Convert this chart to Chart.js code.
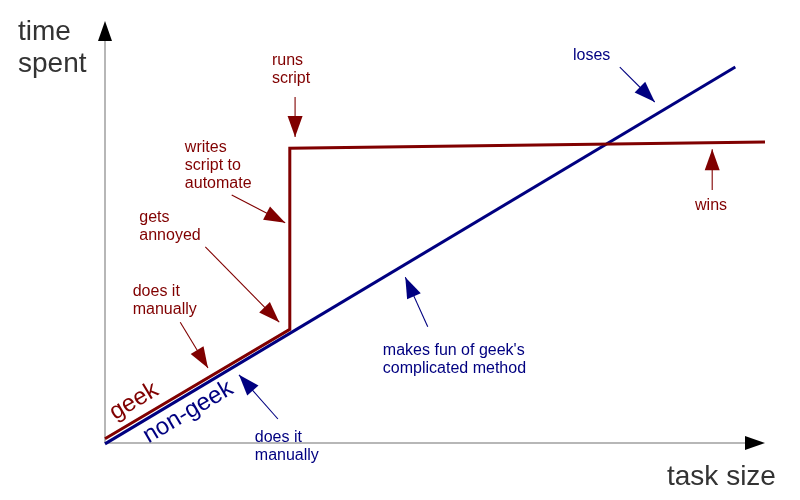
<!DOCTYPE html>
<html>
<head>
<meta charset="utf-8">
<script src="https://cdn.jsdelivr.net/npm/chart.js@4/dist/chart.umd.min.js"></script>
<style>
  html, body { margin: 0; padding: 0; background: #ffffff; }
  #wrap { width: 800px; height: 500px; position: relative; }
</style>
</head>
<body>
<div id="wrap"><canvas id="c"></canvas></div>
<script>
// ---- data (task size vs time spent, arbitrary 0..100 units) ----
const geekX = [0, 28, 28, 100];
const geekY = [1.0, 27.0, 70, 71.5];
const nonGeekX = [0, 95.5];
const nonGeekY = [-0.2, 89.3];

const seriesNames = ['geek', 'non-geek'];
const axisTitleY = ['time', 'spent'];
const axisTitleX = 'task size';

const noteTexts = [
  ['runs', 'script'],
  ['writes', 'script to', 'automate'],
  ['gets', 'annoyed'],
  ['does it', 'manually'],
  ['does it', 'manually'],
  ["makes fun of geek's", 'complicated method'],
  ['loses'],
  ['wins']
];

// ---- annotation placement (data units) ----
const RED = '#800000';
const BLUE = '#000080';
const notes = [
  { t: 0, c: RED,  x: 25.3, y: 89.8, from: [28.8, 82.2], to: [28.8, 72.7] },
  { t: 1, c: RED,  x: 12.1, y: 69.1, from: [19.2, 58.9], to: [27.3, 52.3] },
  { t: 2, c: RED,  x: 5.2,  y: 52.5, from: [15.2, 46.6], to: [26.4, 28.7] },
  { t: 3, c: RED,  x: 4.2,  y: 34.9, from: [11.4, 28.7], to: [15.6, 17.8] },
  { t: 4, c: BLUE, x: 22.7, y: 0.2,  from: [26.2, 5.7],  to: [20.3, 16.2] },
  { t: 5, c: BLUE, x: 42.1, y: 20.9, from: [48.9, 27.6], to: [45.5, 39.4] },
  { t: 6, c: BLUE, x: 70.9, y: 91.0, from: [78.0, 89.3], to: [83.3, 81.0] },
  { t: 7, c: RED,  x: 89.4, y: 55.3, from: [92.0, 60.1], to: [92.0, 69.8] }
];
const seriesLabels = [
  { s: 0, c: RED,  x: 4.4,  y: 9.9 },
  { s: 1, c: BLUE, x: 12.6, y: 7.3 }
];

const FONT = '"Liberation Sans", Arial, sans-serif';

function arrowHead(ctx, x1, y1, x2, y2, len, half) {
  const a = Math.atan2(y2 - y1, x2 - x1);
  const bx = x2 - len * Math.cos(a), by = y2 - len * Math.sin(a);
  ctx.beginPath();
  ctx.moveTo(x2, y2);
  ctx.lineTo(bx + half * Math.sin(a), by - half * Math.cos(a));
  ctx.lineTo(bx - half * Math.sin(a), by + half * Math.cos(a));
  ctx.closePath();
  ctx.fill();
}

const axesPlugin = {
  id: 'axesPlugin',
  beforeDatasetsDraw(chart) {
    const ctx = chart.ctx, a = chart.chartArea;
    ctx.save();
    ctx.strokeStyle = '#a0a0a0';
    ctx.lineWidth = 1.5;
    ctx.beginPath();
    ctx.moveTo(a.left, a.bottom);
    ctx.lineTo(a.left, a.top + 18);
    ctx.moveTo(a.left, a.bottom);
    ctx.lineTo(a.right - 18, a.bottom);
    ctx.stroke();
    ctx.fillStyle = '#000000';
    arrowHead(ctx, a.left, a.bottom, a.left, a.top - 1, 20, 7);
    arrowHead(ctx, a.left, a.bottom, a.right, a.bottom, 20, 7);
    // axis titles
    ctx.fillStyle = '#333333';
    ctx.font = '28px ' + FONT;
    ctx.textBaseline = 'alphabetic';
    ctx.textAlign = 'left';
    ctx.fillText(axisTitleY[0], 18, 40);
    ctx.fillText(axisTitleY[1], 18, 72);
    ctx.fillText(axisTitleX, 667, 485);
    ctx.restore();
  },
  afterDatasetsDraw(chart) {
    const ctx = chart.ctx;
    const xs = chart.scales.x, ys = chart.scales.y;
    ctx.save();
    // annotations
    notes.forEach(n => {
      ctx.fillStyle = n.c;
      ctx.strokeStyle = n.c;
      ctx.font = '16px ' + FONT;
      ctx.textAlign = 'left';
      ctx.textBaseline = 'alphabetic';
      const px = xs.getPixelForValue(n.x), py = ys.getPixelForValue(n.y);
      noteTexts[n.t].forEach((line, i) => ctx.fillText(line, px, py + i * 18));
      const x1 = xs.getPixelForValue(n.from[0]), y1 = ys.getPixelForValue(n.from[1]);
      const x2 = xs.getPixelForValue(n.to[0]), y2 = ys.getPixelForValue(n.to[1]);
      ctx.lineWidth = 1.1;
      ctx.beginPath();
      ctx.moveTo(x1, y1);
      ctx.lineTo(x2, y2);
      ctx.stroke();
      arrowHead(ctx, x1, y1, x2, y2, 21, 7.5);
    });
    // rotated series labels along the lines
    const g = chart.getDatasetMeta(0).data;
    const ang = Math.atan2(g[1].y - g[0].y, g[1].x - g[0].x);
    seriesLabels.forEach(l => {
      ctx.save();
      ctx.translate(xs.getPixelForValue(l.x), ys.getPixelForValue(l.y));
      ctx.rotate(ang);
      ctx.fillStyle = l.c;
      ctx.font = '24px ' + FONT;
      ctx.textAlign = 'center';
      ctx.textBaseline = 'middle';
      ctx.fillText(seriesNames[l.s], 0, 0);
      ctx.restore();
    });
    ctx.restore();
  }
};

new Chart(document.getElementById('c'), {
  type: 'line',
  data: {
    datasets: [
      {
        label: seriesNames[0],
        data: geekX.map((x, i) => ({ x: x, y: geekY[i] })),
        borderColor: RED,
        borderWidth: 3,
        pointRadius: 0,
        tension: 0,
        fill: false,
        clip: false,
        borderJoinStyle: 'miter'
      },
      {
        label: seriesNames[1],
        data: nonGeekX.map((x, i) => ({ x: x, y: nonGeekY[i] })),
        borderColor: BLUE,
        borderWidth: 3,
        pointRadius: 0,
        tension: 0,
        fill: false,
        clip: false
      }
    ]
  },
  options: {
    responsive: true,
    maintainAspectRatio: false,
    animation: false,
    layout: { padding: { left: 105, right: 35, top: 22, bottom: 57 } },
    scales: {
      x: { type: 'linear', min: 0, max: 100, display: false },
      y: { type: 'linear', min: 0, max: 100, display: false }
    },
    plugins: { legend: { display: false }, tooltip: { enabled: false } }
  },
  plugins: [axesPlugin]
});
</script>
</body>
</html>
